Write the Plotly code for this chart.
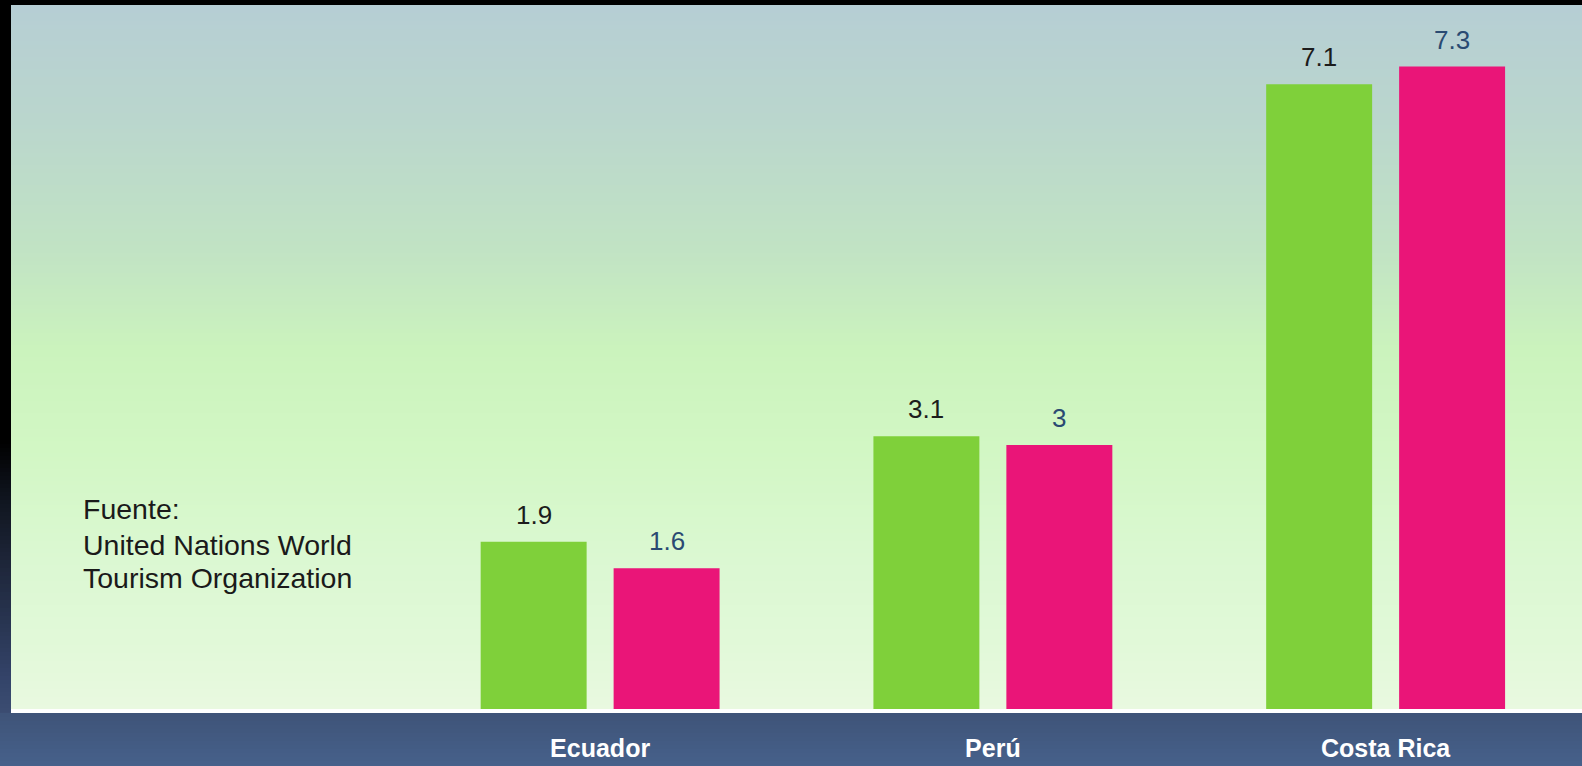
import plotly.graph_objects as go

categories = ["Ecuador", "Perú", "Costa Rica"]
serie_verde = [1.9, 3.1, 7.1]
serie_rosa = [1.6, 3.0, 7.3]
fuente_lines = ["Fuente:", "United Nations World", "Tourism Organization"]

W, H = 1582, 766
ML, MR, MT, MB = 11, 0, 5, 57
PW, PH = W - ML - MR, H - MT - MB
BOTTOM = H - MB


def px_x(px):
    return (px - ML) / PW


def px_y(py):
    return (BOTTOM - py) / PH


def hex2rgb(h):
    h = h.lstrip("#")
    return tuple(int(h[i:i + 2], 16) for i in (0, 2, 4))


def interp(stops, p):
    for (p0, c0), (p1, c1) in zip(stops, stops[1:]):
        if p0 <= p <= p1:
            t = 0 if p1 == p0 else (p - p0) / (p1 - p0)
            a, b = hex2rgb(c0), hex2rgb(c1)
            return "rgb(%d,%d,%d)" % tuple(round(a[i] + (b[i] - a[i]) * t) for i in range(3))
    return stops[-1][1]


shapes = []


def gradient(x0, x1, y0, y1, stops, step=4):
    y = y0
    while y < y1:
        ye = min(y + step, y1)
        col = interp(stops, (y + ye) / 2)
        yb = min(ye + 3, y1)
        shapes.append(dict(type="rect", xref="paper", yref="paper",
                           x0=px_x(x0), x1=px_x(x1), y0=px_y(yb), y1=px_y(y),
                           fillcolor=col, line=dict(width=0), layer="below"))
        y = ye


plot_stops = [(5, "#b6ced4"), (120, "#bad6cd"), (250, "#c1e3c4"), (350, "#cbf3bd"),
              (450, "#d2f7c4"), (560, "#dbf8d2"), (650, "#e2f9d9"), (709, "#e9f9e0")]
left_stops = [(0, "#000000"), (440, "#000000"), (500, "#10151f"), (560, "#1d2538"),
              (620, "#283450"), (680, "#34446a"), (713, "#3c4d72")]
band_stops = [(713, "#3f5378"), (766, "#46618b")]

gradient(ML, W, MT, BOTTOM, plot_stops)
gradient(0, ML, 0, 713, left_stops)
gradient(0, W, 713, H, band_stops)

fig = go.Figure()
fig.add_trace(go.Bar(x=categories, y=serie_verde, marker=dict(color="#7fd03a", line=dict(width=0)),
                     name="verde", hoverinfo="skip"))
fig.add_trace(go.Bar(x=categories, y=serie_rosa, marker=dict(color="#ea1578", line=dict(width=0)),
                     name="rosa", hoverinfo="skip"))

annotations = []
for c, v in zip(categories, serie_verde):
    annotations.append(dict(x=c, y=v, xref="x", yref="y", text=f"{v:g}", showarrow=False,
                            xshift=-66.5, yshift=10, yanchor="bottom",
                            font=dict(family="Liberation Sans, Arial", size=26, color="#1c1c1c")))
for c, v in zip(categories, serie_rosa):
    annotations.append(dict(x=c, y=v, xref="x", yref="y", text=f"{v:g}", showarrow=False,
                            xshift=66.5, yshift=10, yanchor="bottom",
                            font=dict(family="Liberation Sans, Arial", size=26, color="#2a4a72")))
for line, cy in zip(fuente_lines, [509.5, 544.5, 577.5]):
    annotations.append(dict(x=px_x(81), y=px_y(cy), xref="paper", yref="paper",
                            text=line, showarrow=False, align="left",
                            xanchor="left", yanchor="middle",
                            font=dict(family="Liberation Sans, Arial", size=28.5, color="#1a1a1a")))

fig.update_layout(
    width=W, height=H,
    margin=dict(l=ML, r=MR, t=MT, b=MB, pad=0, autoexpand=False),
    paper_bgcolor="#000000",
    plot_bgcolor="rgba(0,0,0,0)",
    barmode="group", bargap=0.323, bargroupgap=0.203,
    showlegend=False,
    shapes=shapes,
    annotations=annotations,
    xaxis=dict(range=[-1.5, 2.5], showgrid=False, zeroline=False, showline=True,
               linecolor="#ffffff", linewidth=4, ticks="", ticklabelstandoff=14,
               automargin=False,
               tickfont=dict(family="Liberation Sans, Arial", size=25, color="#ffffff"),
               tickprefix="<b>", ticksuffix="</b>", fixedrange=True),
    yaxis=dict(range=[0, 8], showgrid=False, zeroline=False, showticklabels=False,
               showline=False, fixedrange=True, automargin=False),
)

fig.write_html("out.html", config={"displayModeBar": False})
